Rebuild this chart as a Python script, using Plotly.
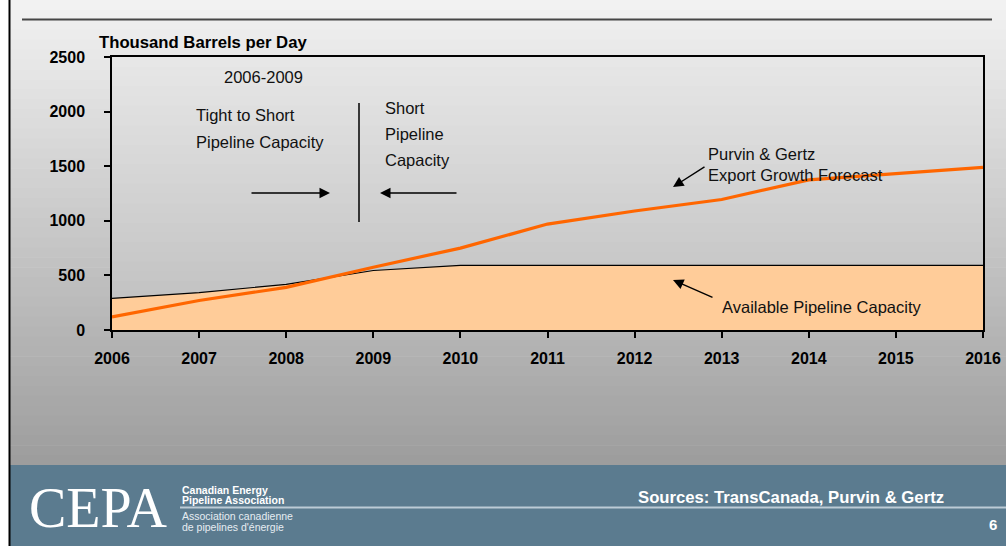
import plotly.graph_objects as go

# ---- data ----
years = [2006, 2007, 2008, 2009, 2010, 2011, 2012, 2013, 2014, 2015, 2016]
capacity = [290, 342, 418, 545, 592, 592, 592, 592, 592, 592, 592]
forecast = [120, 270, 390, 575, 750, 970, 1090, 1195, 1375, 1430, 1490]
y_ticks = [0, 500, 1000, 1500, 2000, 2500]

W, H = 1006, 546
L, R, T, B = 112, 983, 57, 330  # plot area in pixels

FONT = "Arial, Liberation Sans, sans-serif"


def px(x):
    return (x - L) / (R - L)


def py(y):
    return (B - y) / (B - T)


fig = go.Figure()

fig.add_trace(go.Scatter(
    x=years, y=capacity, mode="lines", fill="tozeroy",
    fillcolor="#FFCC99", line=dict(color="black", width=1.2),
    hoverinfo="skip", showlegend=False))
fig.add_trace(go.Scatter(
    x=years, y=forecast, mode="lines",
    line=dict(color="#FF6600", width=3.2),
    hoverinfo="skip", showlegend=False))

shapes = []
# slide background gradient
n = 47
for i in range(n):
    y0 = 465 * i / n
    y1 = 465 * (i + 1) / n + 0.6
    t = (i + 0.5) / n
    c = int(243 - (243 - 157) * t)
    shapes.append(dict(type="rect", xref="paper", yref="paper", layer="below",
                       x0=px(0), x1=px(W), y0=py(y1), y1=py(y0),
                       fillcolor=f"rgb({c},{c},{c})", line=dict(width=0)))
# plot area gradient
m = 28
for i in range(m):
    y0 = T + (B - T) * i / m
    y1 = T + (B - T) * (i + 1) / m + 0.6
    t = (i + 0.5) / m
    c = int(232 - (232 - 190) * t)
    shapes.append(dict(type="rect", xref="paper", yref="paper", layer="below",
                       x0=0, x1=1, y0=py(min(y1, B)), y1=py(y0),
                       fillcolor=f"rgb({c},{c},{c})", line=dict(width=0)))
# bottom band
shapes.append(dict(type="rect", xref="paper", yref="paper", layer="below",
                   x0=px(0), x1=px(W), y0=py(H), y1=py(465),
                   fillcolor="#5B7B8F", line=dict(width=0)))
shapes.append(dict(type="line", xref="paper", yref="paper", layer="below",
                   x0=px(180), x1=px(W), y0=py(507.5), y1=py(507.5),
                   line=dict(color="#BCCBD6", width=2)))
# white left strip and black border
shapes.append(dict(type="rect", xref="paper", yref="paper", layer="below",
                   x0=px(0), x1=px(9), y0=py(H), y1=py(0),
                   fillcolor="white", line=dict(width=0)))
shapes.append(dict(type="line", xref="paper", yref="paper", layer="below",
                   x0=px(9.5), x1=px(9.5), y0=py(H), y1=py(0),
                   line=dict(color="black", width=2)))
# top rule
shapes.append(dict(type="line", xref="paper", yref="paper", layer="below",
                   x0=px(22), x1=px(992), y0=py(19.5), y1=py(19.5),
                   line=dict(color="#454545", width=2)))
# vertical divider
shapes.append(dict(type="line", xref="paper", yref="paper",
                   x0=px(359), x1=px(359), y0=py(103), y1=py(222),
                   line=dict(color="black", width=1.5)))

ann = []


def text(s, x, y, size=16.5, anchor="left", bold=False, color="#111111", family=FONT):
    if bold:
        s = f"<b>{s}</b>"
    ann.append(dict(text=s, xref="paper", yref="paper", x=px(x), y=py(y),
                    xanchor=anchor, yanchor="middle", showarrow=False,
                    font=dict(family=family, size=size, color=color)))


def arrow(hx, hy, tx, ty):
    ann.append(dict(text="", xref="paper", yref="paper", x=px(hx), y=py(hy),
                    ax=tx - hx, ay=ty - hy, showarrow=True, arrowhead=2,
                    arrowsize=1.5, arrowwidth=1.4, arrowcolor="black"))


text("Thousand Barrels per Day", 97, 43, size=16.7, bold=True, color="black")
text("2006-2009", 263, 77, anchor="center")
text("Tight to Short", 194, 115)
text("Pipeline Capacity", 194, 142)
text("Short", 383, 108)
text("Pipeline", 383, 134)
text("Capacity", 383, 160)
text("Purvin &amp; Gertz", 706, 154)
text("Export Growth Forecast", 706, 175)
text("Available Pipeline Capacity", 720, 307)

arrow(330, 193, 250, 193)
arrow(380, 193, 458, 193)
arrow(673, 187, 706, 166)
arrow(673, 280, 714, 298)

# footer
text("CEPA", 27, 508, size=56, color="white", family="Liberation Serif, DejaVu Serif, serif")
text("Canadian Energy", 180, 490, size=10.5, bold=True, color="white")
text("Pipeline Association", 180, 499.5, size=10.5, bold=True, color="white")
text("Association canadienne", 180, 516, size=10.5, color="#E6EDF2")
text("de pipelines d'énergie", 180, 526.5, size=10.5, color="#E6EDF2")
text("Sources: TransCanada, Purvin &amp; Gertz", 946, 497, size=16.7, anchor="right", bold=True, color="white")
text("6", 999, 524, size=15, anchor="right", bold=True, color="white")

fig.update_layout(
    template="none",
    width=W, height=H, autosize=False,
    margin=dict(l=L, r=W - R, t=T, b=H - B, pad=0),
    paper_bgcolor="white", plot_bgcolor="rgba(0,0,0,0)",
    shapes=shapes, annotations=ann, showlegend=False,
    font=dict(family=FONT, color="black"),
)
fig.update_xaxes(range=[2006, 2016], tickvals=years, ticks="outside", ticklen=6,
                 tickwidth=1.5, tickcolor="black", showline=True, linecolor="black",
                 linewidth=1.5, mirror=True, showgrid=False, zeroline=False,
                 automargin=False,
                 tickfont=dict(family=FONT, size=16, color="black", weight="bold"),
                 ticklabelstandoff=7)
fig.update_yaxes(range=[0, 2500], tickvals=y_ticks, ticks="outside", ticklen=6,
                 tickwidth=1.5, tickcolor="black", showline=True, linecolor="black",
                 linewidth=1.5, mirror=True, showgrid=False, zeroline=False,
                 automargin=False,
                 tickfont=dict(family=FONT, size=16, color="black", weight="bold"),
                 ticklabelstandoff=16)

fig.write_html("out.html",
               config=dict(displayModeBar=False, responsive=False),
               post_script="document.body.style.margin='0';document.body.style.overflow='hidden';")
